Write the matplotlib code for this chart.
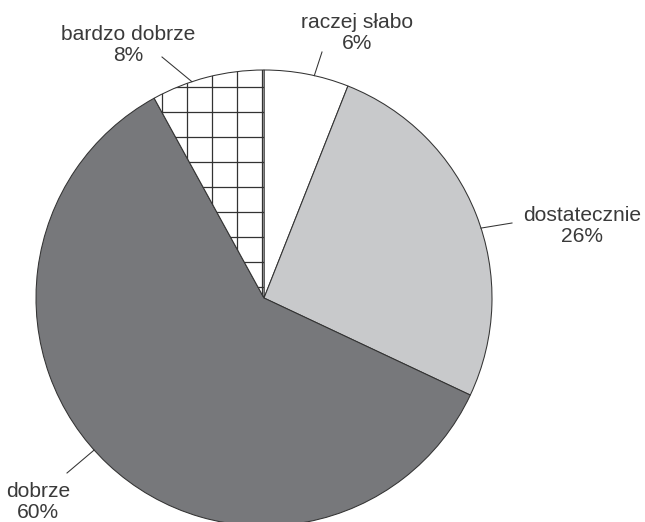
import matplotlib.pyplot as plt
import numpy as np

# dane z wykresu
kategorie = ['raczej słabo', 'dostatecznie', 'dobrze', 'bardzo dobrze']
procenty = [6, 26, 60, 8]
kolory = ['#ffffff', '#c8c9cb', '#77787b', '#ffffff']
wzory = ['', '', '', '+']

# uklad podpisow (piksele, os y od dolu)
podpisy_xy = [(357, 489), (582, 296), (38, 20), (128, 477)]
koniec_linii = [(322, 470), (512, 299), (67, 49), (162, 465)]
ulamek_kata = [0.59, 0.54, 0.523, 0.36]  # gdzie linia dotyka wycinka

plt.rcParams['font.family'] = ['Liberation Sans', 'DejaVu Sans']
plt.rcParams['hatch.linewidth'] = 0.6
plt.rcParams['hatch.color'] = '#333333'

fig = plt.figure(figsize=(4.3, 3.48), dpi=150)
ax = fig.add_axes([0, 0, 1, 1])

srodek = (264, 224)
promien = 228
wedges, _ = ax.pie(procenty, colors=kolory, startangle=90, counterclock=False,
                   center=srodek, radius=promien, frame=True,
                   wedgeprops=dict(edgecolor='#333333', linewidth=0.5))
for w, h in zip(wedges, wzory):
    w.set_hatch(h)

for w, nazwa, p, xy, kl, u in zip(wedges, kategorie, procenty, podpisy_xy,
                                  koniec_linii, ulamek_kata):
    # wycinki ida zgodnie z zegarem: theta2 to poczatek
    kat = np.deg2rad(w.theta2 - u * (w.theta2 - w.theta1))
    px = srodek[0] + promien * np.cos(kat)
    py = srodek[1] + promien * np.sin(kat)
    ax.plot([px, kl[0]], [py, kl[1]], color='#333333', lw=0.5)
    ax.text(xy[0], xy[1], f'{nazwa}\n{p}%', ha='center', va='center',
            fontsize=10.1, color='#3a3a3a', linespacing=1.15)

ax.set_xlim(0, 645)
ax.set_ylim(0, 522)
ax.set_aspect('equal')
ax.axis('off')
fig.savefig('out.png', dpi=150)
